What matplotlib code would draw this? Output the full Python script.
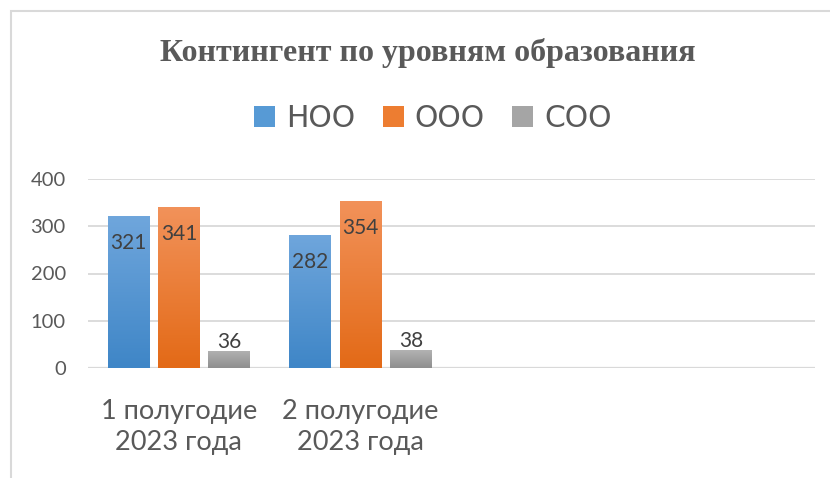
import matplotlib
matplotlib.use("Agg")
import matplotlib.pyplot as plt
from matplotlib.patches import Patch, Rectangle
from matplotlib.colors import LinearSegmentedColormap
import numpy as np

# ── data ──────────────────────────────────────────────────────────────────
categories = ["1 полугодие\n2023 года", "2 полугодие\n2023 года", "", ""]
series = ["НОО", "ООО", "СОО"]
noo = [321, 282]
ooo = [341, 354]
soo = [36, 38]
values = [noo, ooo, soo]

# gradient colours (top, bottom) as in the Office style
grad = [("#6fa6dc", "#3f86c7"), ("#f2925a", "#e36a17"), ("#b2b2b2", "#8f8f8f")]
mid = ["#579ad5", "#ed7d31", "#a5a5a5"]

W, H = 830, 478
fig = plt.figure(figsize=(W / 100, H / 100), dpi=100)
ax = fig.add_axes([88 / W, 1 - 368 / H, 727 / W, 189 / H])

# chart frame (clipped by image on the right and bottom)
fig.patches.append(Rectangle((11 / W, -0.1), 1.2, 1 - 11.5 / H + 0.1,
                             transform=fig.transFigure, fill=False,
                             ec="#d9d9d9", lw=1.5))

bw = 0.23
step = 0.2775
for i, vals in enumerate(values):
    x = np.arange(len(vals)) + (i - 1) * step
    bars = ax.bar(x, vals, width=bw, color=mid[i], zorder=3)
    cmap = LinearSegmentedColormap.from_list("g%d" % i, [grad[i][1], grad[i][0]])
    for b, v in zip(bars, vals):
        img = ax.imshow(np.linspace(0, 1, 64).reshape(-1, 1), cmap=cmap,
                        extent=[b.get_x(), b.get_x() + bw, 0, v],
                        origin="lower", aspect="auto", zorder=3.5)
        img.set_clip_path(b)
        # tall bars: label inside the top, short bars: just above
        dy = -27 if v >= 100 else 9
        ax.annotate(str(v), (b.get_x() + bw / 2, v), xytext=(0, dy),
                    textcoords="offset pixels", ha="center", va="center",
                    fontsize=15, color="#404040", zorder=5)

ax.set_xlim(-0.5, 3.5)
ax.set_ylim(0, 400)
ax.set_yticks([0, 100, 200, 300, 400])
ax.set_xticks(range(len(categories)))
ax.set_xticklabels(categories, fontsize=19.5, color="#595959", linespacing=1.3)
ax.tick_params(axis="y", length=0, pad=16, labelsize=14.5, labelcolor="#595959")
ax.tick_params(axis="x", length=0, pad=22)
ax.grid(axis="y", color="#d9d9d9", lw=1.3, zorder=0)
for s in ax.spines.values():
    s.set_visible(False)
ax.axhline(0, color="#d9d9d9", lw=1.6, zorder=2)

fig.text(427.5 / W, 1 - 61 / H, "Контингент по уровням образования",
         ha="center", va="baseline", fontsize=23, fontweight="bold",
         family="Liberation Serif", color="#595959")

handles = [Patch(facecolor=c, edgecolor="none") for c in mid]
fig.legend(handles, series, loc="center", bbox_to_anchor=(433 / W, 1 - 118.5 / H),
           ncol=3, frameon=False, fontsize=21.5, handlelength=0.7,
           handleheight=0.7, handletextpad=0.37, columnspacing=0.92,
           borderpad=0, labelcolor="#595959")

for t in ax.get_xticklabels() + ax.get_yticklabels():
    t.set_family("Lato")
for t in ax.texts:
    t.set_family("Lato")

fig.savefig("out.png", dpi=100, facecolor="white")
